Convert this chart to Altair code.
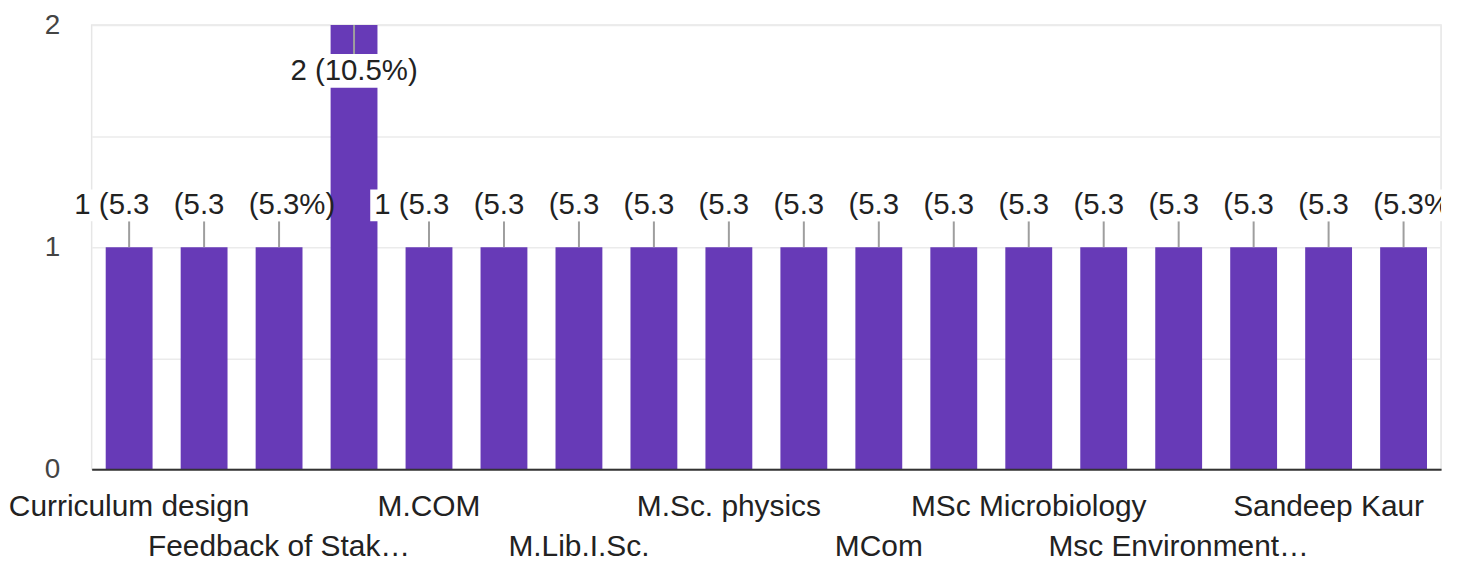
import json
import altair as alt
import pandas as pd

# ---- data ----
bar_index = list(range(1, 19))
responses = [1, 1, 1, 2, 1, 1, 1, 1, 1, 1, 1, 1, 1, 1, 1, 1, 1, 1]
tick_labels = [
    "Curriculum design", "", "Feedback of Stak…", "", "M.COM", "",
    "M.Lib.I.Sc.", "", "M.Sc. physics", "", "MCom", "",
    "MSc Microbiology", "", "Msc Environment…", "", "Sandeep Kaur", "",
]
y_ticks = [0, 0.5, 1, 1.5, 2]

total = sum(responses)
annotations = [f"{c} ({100 * c / total:.1f}%)" for c in responses]
top = max(responses)

df = pd.DataFrame({"idx": bar_index, "responses": responses, "ann": annotations})

FONT = "Liberation Sans"
PURPLE = "#673ab7"
TXT = "#222222"
ANN_SIZE = 29.5

label_js = json.dumps(tick_labels, ensure_ascii=False)
x_label_expr = (
    f"(datum.value - 1) % 4 == 2 ? ['', {label_js}[datum.value - 1]] "
    f": {label_js}[datum.value - 1]"
)

x_enc = alt.X(
    "idx:O",
    scale=alt.Scale(paddingInner=0.375, paddingOuter=0.1875),
    axis=alt.Axis(
        title=None, ticks=False, grid=False, domainColor="#333333", domainWidth=2,
        labelAngle=0, labelOverlap=False, labelLimit=600, labelPadding=22,
        labelLineHeight=41, labelFontSize=30, labelColor=TXT, labelFont=FONT,
        labelBaseline="top", labelExpr=x_label_expr, zindex=1,
    ),
)
y_enc = alt.Y(
    "responses:Q",
    scale=alt.Scale(domain=[0, top], nice=False),
    axis=alt.Axis(
        title=None, ticks=False, domain=False, values=y_ticks, format="~g",
        labelExpr="datum.value % 1 == 0 ? datum.label : ''",
        labelPadding=32, labelFontSize=28, labelColor="#444444", labelFont=FONT,
        gridColor="#ebebeb", gridWidth=1.5, minExtent=82, maxExtent=82,
    ),
)

base = alt.Chart(df).encode(x=x_enc, y=y_enc)

bars = base.mark_bar(color=PURPLE)

rule_out = base.transform_filter(alt.datum.responses < top).mark_rule(
    color="#9e9e9e", strokeWidth=2, y2Offset=-26
).encode(y2=alt.Y2("responses:Q"))
rule_in = base.transform_filter(alt.datum.responses == top).mark_rule(
    color="#9e9e9e", strokeWidth=2, y2Offset=29
).encode(y2=alt.Y2("responses:Q"))

BOX_OUT = "M-1.18,-0.32L0.82,-0.32L0.82,0.32L-1.18,0.32Z"
BOX_IN = "M-1.36,-0.34L1.32,-0.34L1.32,0.34L-1.36,0.34Z"

label_layers = []
n = len(responses)
for i in reversed(range(n)):
    k = bar_index[i]
    inside = responses[i] == top
    sub = base.transform_filter(alt.datum.idx == k)
    if inside:
        box = sub.mark_point(shape=BOX_IN, size=10000, filled=True, color="white",
                             opacity=1, strokeWidth=0, yOffset=46)
        txt = sub.mark_text(font=FONT, fontSize=ANN_SIZE, color=TXT, baseline="middle",
                            align="center", yOffset=46).encode(text="ann:N")
    else:
        right_same = (i + 1 < n) and responses[i + 1] != top
        kw = dict(limit=90, ellipsis="\u200b") if right_same else {}
        if i == n - 1:
            kw["clip"] = True
        box = sub.mark_point(shape=BOX_OUT, size=10000, filled=True, color="white",
                             opacity=1, strokeWidth=0, yOffset=-42)
        txt = sub.mark_text(font=FONT, fontSize=ANN_SIZE, color=TXT, baseline="middle",
                            align="left", dx=-55, yOffset=-42,
                            **kw).encode(text="ann:N")
    label_layers += [box, txt]

chart = (
    alt.layer(bars, rule_out, rule_in, *label_layers)
    .properties(width=1355, height=446,
                padding={"left": 0, "top": 2, "right": 10, "bottom": 0})
    .configure_view(stroke="#e6e6e6", strokeWidth=1.5)
)

chart.save("out.html", embed_options={"renderer": "svg", "actions": False})
